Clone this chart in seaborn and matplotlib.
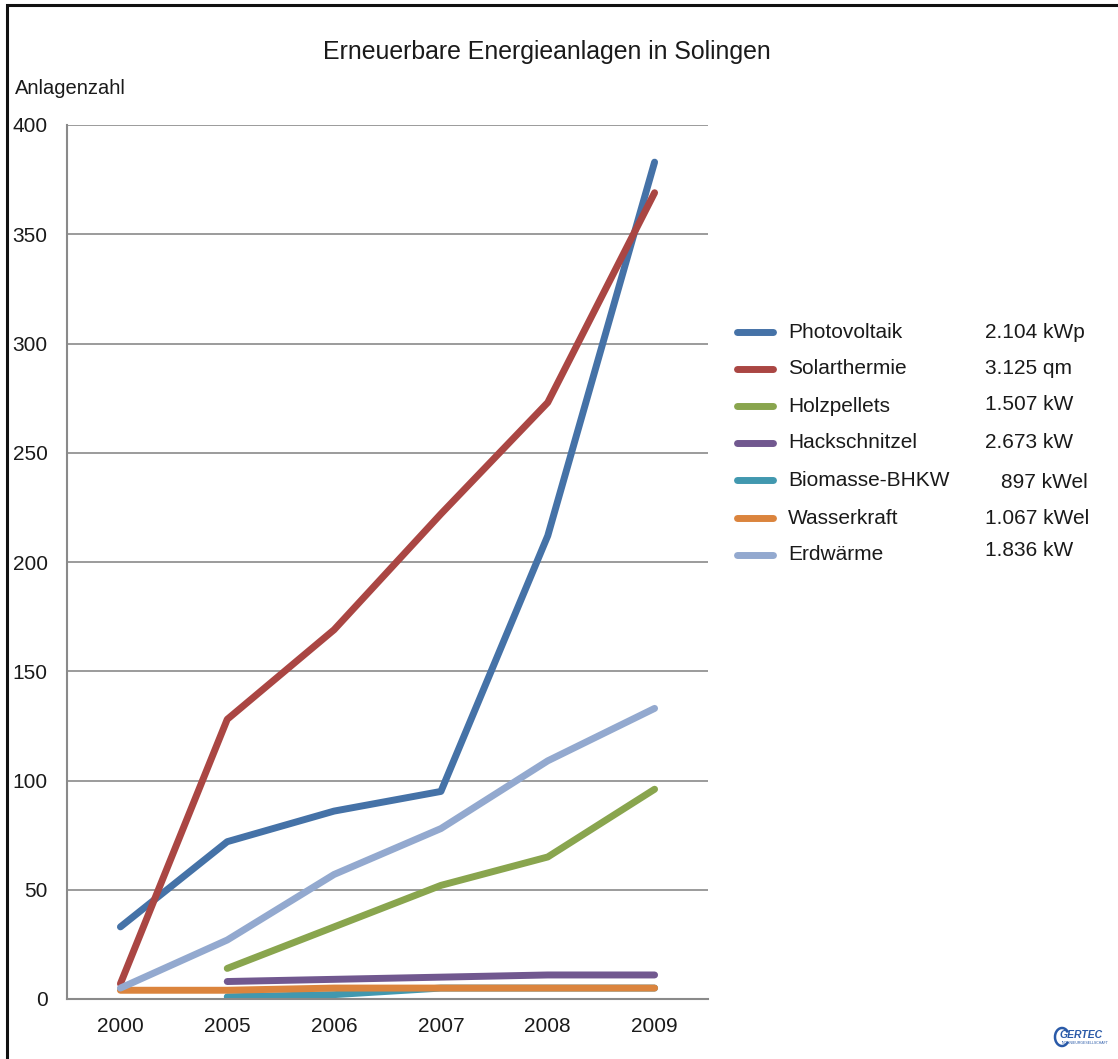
import numpy as np
import pandas as pd
import matplotlib
matplotlib.use("Agg")
import matplotlib.pyplot as plt
from matplotlib.patches import Rectangle, Arc
import seaborn as sns

# Jahre und Anlagenzahlen je Energieträger
years = ["2000", "2005", "2006", "2007", "2008", "2009"]
photovoltaik = [33, 72, 86, 95, 212, 383]
solarthermie = [7, 128, 169, 222, 273, 369]
holzpellets = [np.nan, 14, 33, 52, 65, 96]
hackschnitzel = [np.nan, 8, 9, 10, 11, 11]
biomasse_bhkw = [np.nan, 1, 2, 5, 5, 5]
wasserkraft = [4, 4, 5, 5, 5, 5]
erdwaerme = [5, 27, 57, 78, 109, 133]

series_names = ["Photovoltaik", "Solarthermie", "Holzpellets", "Hackschnitzel",
                "Biomasse-BHKW", "Wasserkraft", "Erdwärme"]
capacities = ["2.104 kWp", "3.125 qm", "1.507 kW", "2.673 kW",
              "897 kWel", "1.067 kWel", "1.836 kW"]
colors = ["#4572A7", "#AA4643", "#89A54E", "#71588F",
          "#4198AF", "#DB843D", "#93A9CF"]

series_values = [photovoltaik, solarthermie, holzpellets, hackschnitzel,
                 biomasse_bhkw, wasserkraft, erdwaerme]

rows = []
for name, vals in zip(series_names, series_values):
    for yr, v in zip(years, vals):
        rows.append({"Jahr": yr, "Anlagen": v, "Art": name})
df = pd.DataFrame(rows).dropna()

sns.set_theme(style="white")
plt.rcParams["font.family"] = ["Liberation Sans", "DejaVu Sans"]
text_color = "#1a1a1a"
grid_color = "#8a8a8a"
lw = 5.0

fig = plt.figure(figsize=(11.18, 10.59), dpi=100)
fig.patch.set_facecolor("white")
ax = fig.add_axes([67 / 1118, 1 - 999 / 1059, (708 - 67) / 1118, (999 - 125) / 1059])

sns.lineplot(data=df, x="Jahr", y="Anlagen", hue="Art", hue_order=series_names,
             palette=dict(zip(series_names, colors)), linewidth=lw,
             errorbar=None, ax=ax, legend=False, solid_capstyle="round")

ax.set_xlim(-0.5, len(years) - 0.5)
ax.set_ylim(0, 400)
ax.set_yticks(np.arange(0, 401, 50))
ax.set_xlabel("")
ax.set_ylabel("")
ax.grid(axis="y", color=grid_color, linewidth=1.2)
ax.grid(axis="x", visible=False)
ax.set_axisbelow(True)
for side in ["top", "right"]:
    ax.spines[side].set_visible(False)
for side in ["left", "bottom"]:
    ax.spines[side].set_color(grid_color)
    ax.spines[side].set_linewidth(1.5)
ax.tick_params(axis="y", length=0, pad=14, labelsize=15, labelcolor=text_color)
ax.tick_params(axis="x", length=0, pad=13, labelsize=15, labelcolor=text_color)

# Titel und Achsenbeschriftung
fig.text(547 / 1118, 1 - 52 / 1059, "Erneuerbare Energieanlagen in Solingen",
         ha="center", va="center", fontsize=17.9, color=text_color)
fig.text(15 / 1118, 1 - 88 / 1059, "Anlagenzahl", ha="left", va="center",
         fontsize=14.5, color=text_color)

# Legende mit installierter Leistung
row_y = [332, 369, 406, 443, 480, 518, 555]
cap_y = [332, 368, 405, 443, 482, 518, 550]
for name, cap, col, y, yc in zip(series_names, capacities, colors, row_y, cap_y):
    yf = 1 - y / 1059
    fig.add_artist(plt.Line2D([737 / 1118, 773 / 1118], [yf, yf], color=col,
                              linewidth=lw, solid_capstyle="round",
                              transform=fig.transFigure))
    fig.text(788 / 1118, yf, name, ha="left", va="center", fontsize=15,
             color=text_color)
    x_cap = 1001 if cap.startswith("897") else 985
    fig.text(x_cap / 1118, 1 - yc / 1059, cap, ha="left", va="center",
             fontsize=15, color=text_color)

# Rahmen um die Grafik
fig.add_artist(Rectangle((7 / 1118, -0.1), 1.2, 1 - 5 / 1059 + 0.1,
                         transform=fig.transFigure, fill=False,
                         edgecolor="#111111", linewidth=2.2))

# Logo
fig.add_artist(Arc((1062 / 1118, 1 - 1037 / 1059), 14 / 1118, 18 / 1059,
                   theta1=40, theta2=320, transform=fig.transFigure,
                   color="#2a5aa8", linewidth=1.8))
fig.text(1060 / 1118, 1 - 1035 / 1059, "GERTEC", ha="left", va="center",
         fontsize=7.5, color="#2a5aa8", style="italic", fontweight="bold")
fig.text(1062 / 1118, 1 - 1043 / 1059, "INGENIEURGESELLSCHAFT", ha="left",
         va="center", fontsize=2.5, color="#2a5aa8")

fig.savefig("out.png", dpi=100)
